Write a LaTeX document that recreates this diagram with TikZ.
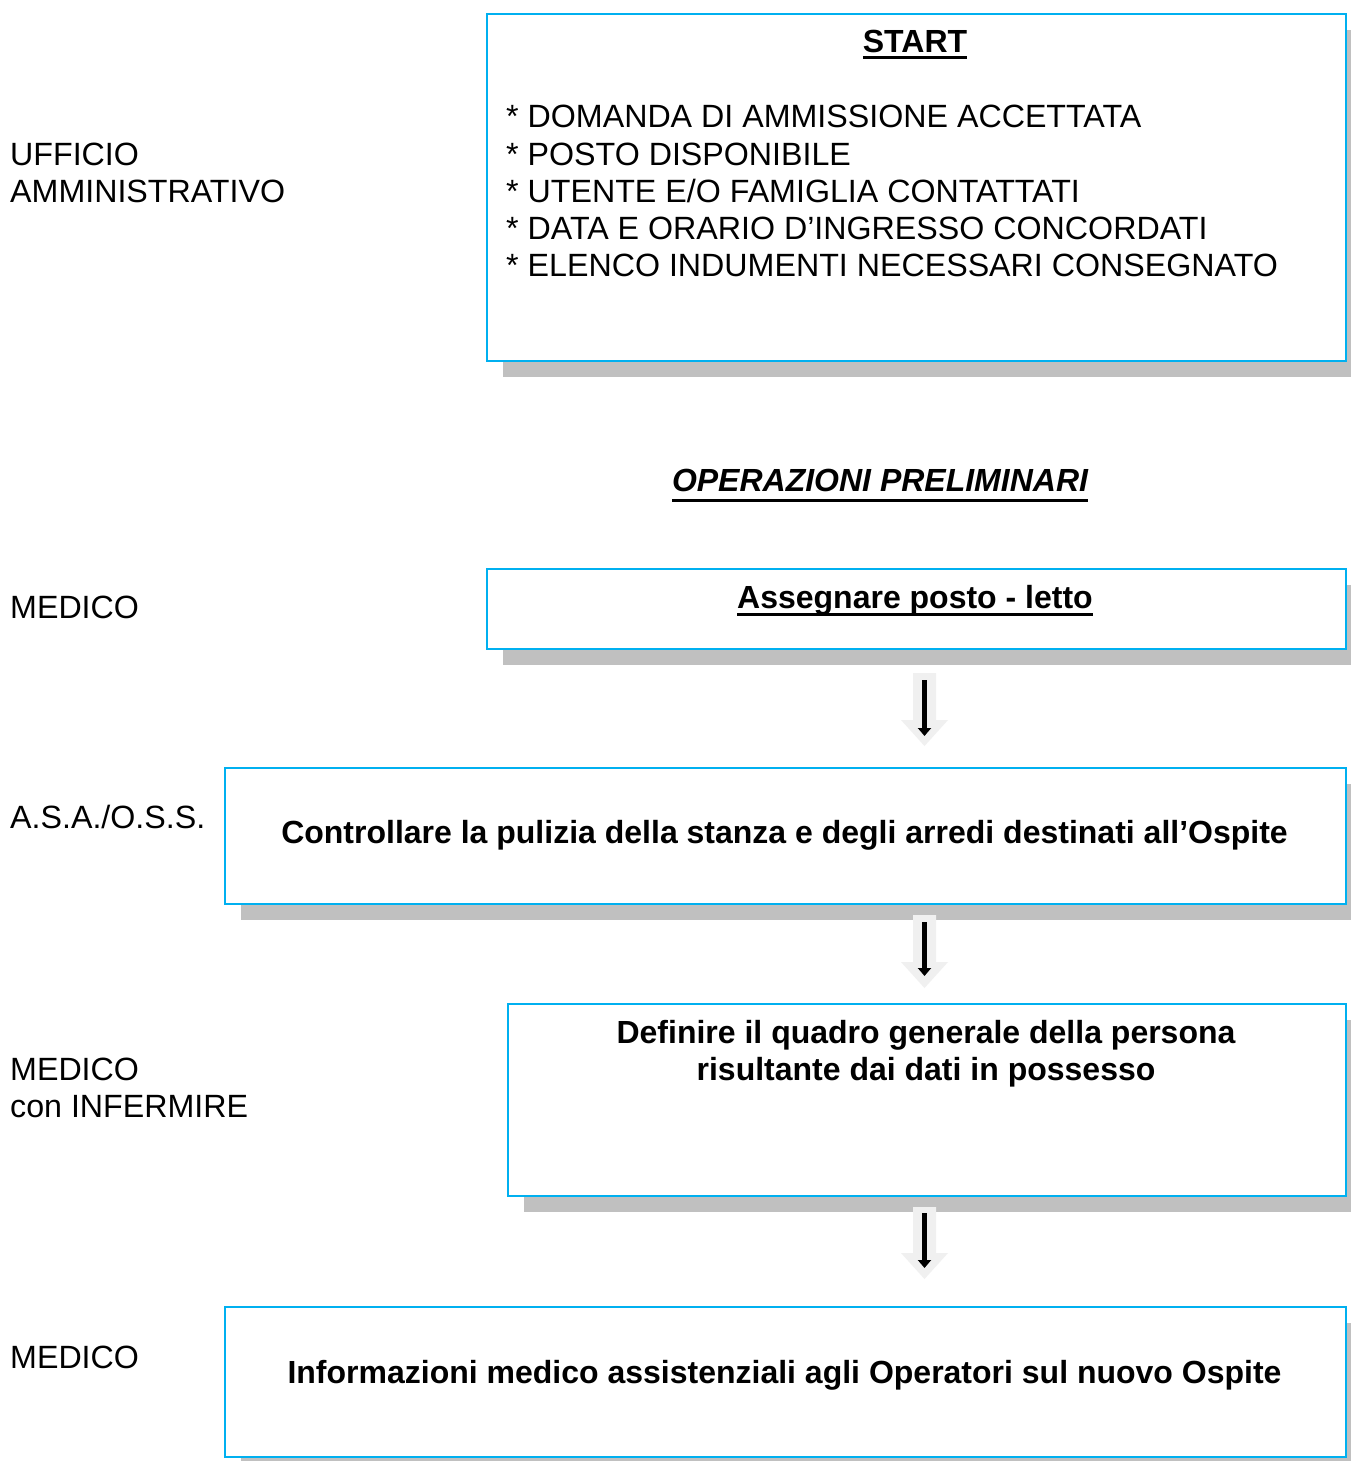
\documentclass[tikz,border=0pt]{standalone}
\usepackage{fontspec}
\setmainfont{Liberation Sans}
\usetikzlibrary{shadows,arrows.meta}
\definecolor{boxcyan}{HTML}{00B0F0}
\definecolor{shadowgrey}{HTML}{C0C0C0}
\definecolor{arrowgrey}{HTML}{F0F0F0}
\newcommand\myul[2][9pt]{\setbox0\hbox{#2}\rlap{\rule[-#1]{\wd0}{2.8pt}}\box0}
\tikzset{
  flowbox/.style={draw=boxcyan, line width=2.2pt, fill=white, inner sep=0pt, anchor=north west,
    drop shadow={shadow xshift=16pt, shadow yshift=-16pt, fill=shadowgrey, opacity=1}},
  plain/.style={font=\fontsize{32.2}{37}\selectfont, inner sep=0pt, anchor=base west},
  bold/.style={font=\fontsize{32}{37}\selectfont\bfseries, inner sep=0pt, anchor=base},
  blackarrow/.style={line width=5.5pt, -{Triangle[width=13pt,length=8pt]}},
}
\begin{document}
\begin{tikzpicture}[x=1pt,y=-1pt]
\useasboundingbox[fill=white] (0,0) rectangle (1350,1461);
% boxes
\node[flowbox, minimum width=859pt, minimum height=347pt] (b1) at (486,13) {};
\node[flowbox, minimum width=859pt, minimum height=80pt] (b2) at (486,568) {};
\node[flowbox, minimum width=1121pt, minimum height=136pt] (b3) at (224,767) {};
\node[flowbox, minimum width=838pt, minimum height=192pt] (b4) at (507,1003) {};
\node[flowbox, minimum width=1121pt, minimum height=150pt] (b5) at (224,1306) {};
% box texts
\node[bold] (start) at (915,53) {\myul[6pt]{START}};
\foreach \t [count=\i] in {* DOMANDA DI AMMISSIONE ACCETTATA,* POSTO DISPONIBILE,* UTENTE E/O FAMIGLIA CONTATTATI,* DATA E ORARIO D’INGRESSO CONCORDATI,* ELENCO INDUMENTI NECESSARI CONSEGNATO}
  \node[plain] (l\i) at (506,{128+37*(\i-1)}) {\t};
\node[bold, font=\fontsize{32}{37}\selectfont\bfseries\itshape] (oper) at (880,491) {\myul[11pt]{OPERAZIONI PRELIMINARI}};
\node[bold] (t2) at (915,608) {\myul[7.5pt]{Assegnare posto - letto}};
\node[bold] (t3) at (784.5,843) {Controllare la pulizia della stanza e degli arredi destinati all’Ospite};
\node[bold] (t4a) at (926,1043) {Definire il quadro generale della persona};
\node[bold] (t4b) at (926,1080) {risultante dai dati in possesso};
\node[bold] (t5) at (784.5,1383) {Informazioni medico assistenziali agli Operatori sul nuovo Ospite};
% left labels
\node[plain] (r1a) at (10,165) {UFFICIO};
\node[plain] (r1b) at (10,202) {AMMINISTRATIVO};
\node[plain] (r2) at (10,618) {MEDICO};
\node[plain] (r3) at (10,828) {A.S.A./O.S.S.};
\node[plain] (r4a) at (10,1080) {MEDICO};
\node[plain] (r4b) at (10,1117) {con INFERMIRE};
\node[plain] (r5) at (10,1368) {MEDICO};
% arrows
\foreach \n/\top/\hs/\tip/\bs/\be in {1/673/720/746/680/736, 2/915/962/988/922/976, 3/1207/1253/1279/1213/1268}{
  \fill[arrowgrey] (913,\top) -- (936,\top) -- (936,\hs) -- (948,\hs) -- (924.5,\tip) -- (901,\hs) -- (913,\hs) -- cycle;
  \coordinate (as\n) at (924.5,\bs);
  \coordinate (ae\n) at (924.5,\be);
  \draw[blackarrow] (as\n) -- (ae\n);
}
\end{tikzpicture}
\end{document}
